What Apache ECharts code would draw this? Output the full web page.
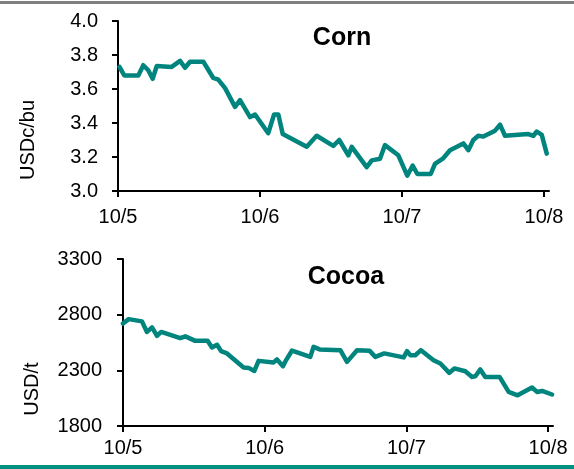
<!DOCTYPE html>
<html>
<head>
<meta charset="utf-8">
<script src="https://cdn.jsdelivr.net/npm/echarts@6/dist/echarts.min.js"></script>
<style>
  html, body { margin: 0; padding: 0; background: #fff; }
  #chart { width: 574px; height: 469px; }
</style>
</head>
<body>
<div id="chart"></div>
<script>
// Day labels along both x axes (0 = 10/5, 1 = 10/6, ...)
const dayLabels = ['10/5', '10/6', '10/7', '10/8'];

// Corn futures, USDc/bu — [day offset, price]
const cornPrices = [
  [0.01, 3.73], [0.044, 3.68], [0.143, 3.68], [0.178, 3.74], [0.213, 3.71],
  [0.244, 3.66], [0.273, 3.735], [0.378, 3.73], [0.437, 3.765], [0.472, 3.725],
  [0.507, 3.76], [0.601, 3.76], [0.671, 3.665], [0.706, 3.655], [0.754, 3.605],
  [0.824, 3.495], [0.859, 3.535], [0.930, 3.435], [0.965, 3.45], [1.058, 3.34],
  [1.099, 3.45], [1.129, 3.45], [1.160, 3.335], [1.329, 3.26], [1.399, 3.325],
  [1.516, 3.265], [1.558, 3.30], [1.622, 3.21], [1.646, 3.26], [1.751, 3.14],
  [1.787, 3.18], [1.845, 3.19], [1.880, 3.27], [1.974, 3.21], [2.037, 3.09],
  [2.075, 3.15], [2.108, 3.10], [2.202, 3.10], [2.232, 3.16], [2.287, 3.19],
  [2.338, 3.24], [2.432, 3.28], [2.467, 3.24], [2.502, 3.30], [2.537, 3.325],
  [2.573, 3.32], [2.655, 3.355], [2.690, 3.39], [2.725, 3.325], [2.889, 3.335],
  [2.925, 3.325], [2.949, 3.35], [2.984, 3.33], [3.019, 3.22]
];

// Cocoa futures, USD/t — [day offset, price]
const cocoaPrices = [
  [0.0, 2720], [0.040, 2760], [0.134, 2740], [0.169, 2645], [0.205, 2685],
  [0.240, 2610], [0.270, 2645], [0.404, 2590], [0.440, 2605], [0.510, 2565],
  [0.597, 2565], [0.628, 2505], [0.664, 2530], [0.692, 2472], [0.734, 2452],
  [0.851, 2326], [0.887, 2322], [0.927, 2295], [0.957, 2385], [1.063, 2371],
  [1.087, 2398], [1.129, 2337], [1.146, 2380], [1.193, 2478], [1.322, 2421],
  [1.345, 2511], [1.388, 2488], [1.534, 2481], [1.581, 2376], [1.652, 2481],
  [1.741, 2475], [1.781, 2421], [1.844, 2452], [1.981, 2416], [2.005, 2472],
  [2.028, 2436], [2.063, 2436], [2.103, 2481], [2.192, 2391], [2.240, 2361],
  [2.303, 2277], [2.339, 2317], [2.416, 2292], [2.464, 2241], [2.487, 2247],
  [2.522, 2308], [2.557, 2241], [2.658, 2241], [2.722, 2106], [2.785, 2076],
  [2.887, 2146], [2.922, 2106], [2.958, 2115], [3.028, 2083]
];

const FONT = 'Liberation Sans, Arial, sans-serif';
const LINE_COLOR = '#00847e';
const dayTicks = dayLabels.map((_, i) => i);

function xAxisFor(gridIndex, labelMargin) {
  return {
    type: 'value', gridIndex: gridIndex, min: 0, max: 3.035,
    axisLine: { show: true, lineStyle: { color: '#000', width: 2 } },
    axisTick: { show: true, length: 6, lineStyle: { color: '#000', width: 2 }, customValues: dayTicks },
    axisLabel: {
      customValues: dayTicks, margin: labelMargin,
      color: '#000', fontSize: 20, fontFamily: FONT,
      formatter: v => dayLabels[Math.round(v)]
    },
    splitLine: { show: false }
  };
}

function yAxisFor(gridIndex, min, max, interval, digits, labelMargin) {
  return {
    type: 'value', gridIndex: gridIndex, min: min, max: max, interval: interval,
    axisLine: { show: true, lineStyle: { color: '#000', width: 2 } },
    axisTick: { show: true, length: 6, lineStyle: { color: '#000', width: 2 } },
    axisLabel: {
      margin: labelMargin, color: '#000', fontSize: 20, fontFamily: FONT,
      formatter: v => v.toFixed(digits)
    },
    splitLine: { show: false }
  };
}

const chart = echarts.init(document.getElementById('chart'), null, { renderer: 'canvas' });
chart.setOption({
  animation: false,
  backgroundColor: '#fff',
  title: [
    { text: 'Corn', left: 337, top: 21, textAlign: 'center',
      textStyle: { fontSize: 25, fontWeight: 'bold', color: '#000', fontFamily: FONT } },
    { text: 'Cocoa', left: 341, top: 260, textAlign: 'center',
      textStyle: { fontSize: 25, fontWeight: 'bold', color: '#000', fontFamily: FONT } }
  ],
  grid: [
    { left: 118, top: 21, width: 431, height: 170 },
    { left: 123, top: 259, width: 430, height: 167 }
  ],
  xAxis: [xAxisFor(0, 16), xAxisFor(1, 12)],
  yAxis: [
    yAxisFor(0, 3.0, 4.0, 0.2, 1, 20),
    yAxisFor(1, 1800, 3300, 500, 0, 21)
  ],
  graphic: [
    { type: 'rect', shape: { x: 0, y: 1, width: 574, height: 3 }, style: { fill: '#7f7f7f' } },
    { type: 'rect', shape: { x: 0, y: 465, width: 574, height: 4 }, style: { fill: '#009181' } },
    { type: 'text', x: 28, y: 140, rotation: Math.PI / 2,
      style: { text: 'USDc/bu', fill: '#000', fontSize: 20, fontFamily: FONT, align: 'center', verticalAlign: 'middle' } },
    { type: 'text', x: 32, y: 389, rotation: Math.PI / 2,
      style: { text: 'USD/t', fill: '#000', fontSize: 20, fontFamily: FONT, align: 'center', verticalAlign: 'middle' } }
  ],
  series: [
    { type: 'line', xAxisIndex: 0, yAxisIndex: 0, data: cornPrices, showSymbol: false,
      lineStyle: { color: LINE_COLOR, width: 4.5, join: 'round', cap: 'round' } },
    { type: 'line', xAxisIndex: 1, yAxisIndex: 1, data: cocoaPrices, showSymbol: false,
      lineStyle: { color: LINE_COLOR, width: 4.5, join: 'round', cap: 'round' } }
  ]
});
</script>
</body>
</html>
